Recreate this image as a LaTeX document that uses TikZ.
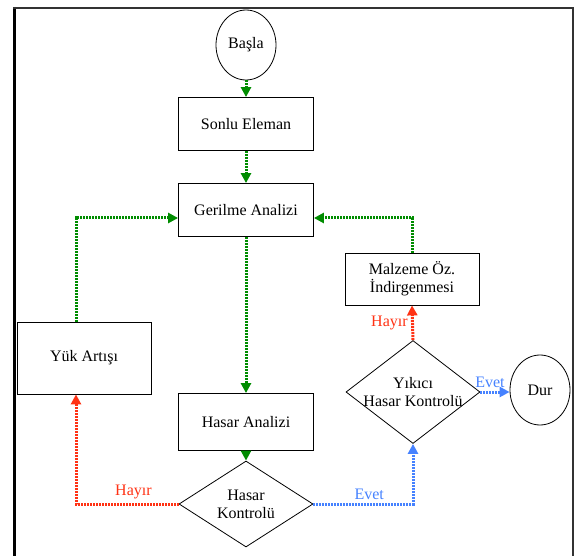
\documentclass[tikz,border=0pt]{standalone}
\usepackage{fontspec}
\setmainfont{Liberation Serif}
\usetikzlibrary{shapes.geometric}
\usetikzlibrary{positioning}
\usetikzlibrary{arrows.meta}

\begin{document}
\begin{tikzpicture}[x=1pt,y=-1pt,->,>={Triangle[length=10pt,width=10pt]},
	node distance=80pt,font=\fontsize{16}{18}\selectfont,
	box node/.style={rectangle,draw,thick,minimum width=135pt,minimum height=53pt,inner sep=2pt},
	term node/.style={ellipse,draw,thick,minimum width=60pt,minimum height=70pt,inner sep=0pt},
	check node/.style={diamond,draw,thick,minimum width=134pt,minimum height=86pt,inner sep=0pt},
	flow/.style={line width=3pt,dash pattern=on 2pt off 1pt}]
	
	\definecolor{flowgreen}{RGB}{0,140,0}
	\definecolor{flowred}{RGB}{255,50,20}
	\definecolor{flowblue}{RGB}{70,130,255}
	
	% frame
	\useasboundingbox (0,0) rectangle (576,556);
	\draw[-,line width=3pt] (14.5,7) -- (14.5,556);
	\draw[-,line width=2pt,black!80] (13,8) -- (573,8) -- (573,556);
	
	\node[term node] (basla) at (246,45) {Başla};
	\node[box node] (sonlu) [below of=basla, node distance=79pt] {Sonlu Eleman};
	\node[box node] (gerilme) [below of=sonlu, node distance=86pt] {Gerilme Analizi};
	\node[box node, minimum height=57pt] (hasaran) [below of=gerilme, node distance=212pt] {Hasar Analizi};
	\node[check node, label={[align=center]center:Hasar\\Kontrolü}] (hasarkon) [below of=hasaran, node distance=82pt] {};
	\node[box node, minimum width=134pt, minimum height=72pt] (yuk) at (84,358) {Yük Artışı};
	\node[box node, minimum width=134pt, minimum height=52pt, align=center] (malzeme) at (412,279) {Malzeme Öz.\\İndirgenmesi};
	\node[check node, minimum height=103pt, label={[align=center]center:Yıkıcı\\Hasar Kontrolü}] (yikici) at (413,392) {};
	\node[term node] (dur) at (540,390) {Dur};
	
	\path[flow,flowgreen]
	(basla) edge (sonlu)
	(sonlu) edge (gerilme)
	(gerilme) edge (hasaran)
	(hasaran) edge (hasarkon);
	
	\draw[flow,flowgreen] ([xshift=-8pt]yuk.north) |- ([yshift=-8pt]gerilme.west);
	\draw[flow,flowgreen] (malzeme.north) |- ([yshift=-8pt]gerilme.east);
	
	\draw[flow,flowred] (hasarkon.west) -| node[pos=0.22,above,text=flowred] {Hayır} ([xshift=-8pt]yuk.south);
	\draw[flow,flowred] (yikici.north) -- node[left,text=flowred] {Hayır} (malzeme.south);
	
	\draw[flow,flowblue] (hasarkon.east) -| node[pos=0.28,above,text=flowblue] {Evet} (yikici.south);
	\draw[flow,flowblue] (yikici.east) -- node[above,xshift=-5pt,text=flowblue] {Evet} (yikici.east -| dur.west);
\end{tikzpicture}
\end{document}
